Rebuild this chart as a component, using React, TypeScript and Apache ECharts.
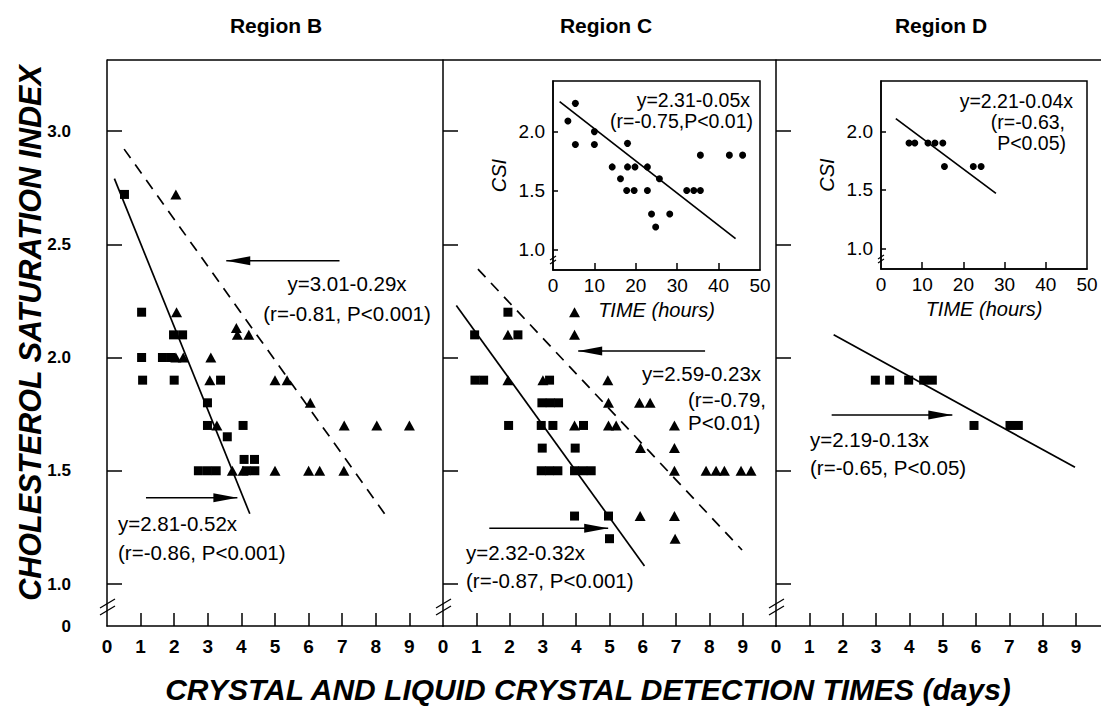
import React, { useEffect, useRef } from "react";
import * as echarts from "echarts";

const FONT = "Liberation Sans, Arial, Helvetica, sans-serif";

// ---------- data ----------
const panelTitles = ["Region B", "Region C", "Region D"];
const dayTicks = [1, 2, 3, 4, 5, 6, 7, 8, 9];
const dayLabels = [0, 1, 2, 3, 4, 5, 6, 7, 8, 9];
const csiTicks = [1, 1.5, 2, 2.5, 3];
const insetCsiTicks = [1, 1.5, 2];
const hourTicks = [10, 20, 30, 40];

const bSquares = [
  [0.52, 2.72], [1.03, 2.2], [1.98, 2.1], [2.25, 2.1],
  [1.03, 2.0], [1.65, 2.0], [1.9, 2.0],
  [1.06, 1.9], [2.0, 1.9], [3.38, 1.9],
  [2.99, 1.8], [2.99, 1.7], [4.05, 1.7], [3.58, 1.65],
  [4.08, 1.55], [4.39, 1.55],
  [2.72, 1.5], [2.99, 1.5], [3.25, 1.5], [4.15, 1.5], [4.4, 1.5],
];
const bTriangles = [
  [2.05, 2.72], [2.07, 2.2], [3.85, 2.13], [3.88, 2.1], [4.22, 2.1],
  [2.05, 2.0], [2.27, 2.0], [3.09, 2.0],
  [3.06, 1.9], [5.0, 1.9], [5.36, 1.9],
  [6.05, 1.8],
  [3.27, 1.7], [7.06, 1.7], [8.03, 1.7], [9.0, 1.7],
  [3.73, 1.5], [4.05, 1.5], [5.0, 1.5], [6.0, 1.5], [6.33, 1.5], [7.05, 1.5],
];
const bSolid = [[0.22, 2.79], [4.25, 1.31]];
const bDashed = [[0.51, 2.92], [8.36, 1.29]];
const bArrowUpper = [[6.92, 2.427], [3.55, 2.427]];
const bArrowLower = [[1.16, 1.381], [3.88, 1.381]];

const cSquares = [
  [1.95, 2.2], [0.95, 2.1], [2.25, 2.1],
  [0.96, 1.9], [1.22, 1.9], [3.2, 1.9],
  [2.97, 1.8], [3.22, 1.8], [3.47, 1.8],
  [1.97, 1.7], [2.95, 1.7], [3.3, 1.7], [4.22, 1.7],
  [2.98, 1.6], [3.97, 1.6],
  [2.95, 1.5], [3.2, 1.5], [3.45, 1.5], [3.95, 1.5], [4.2, 1.5], [4.45, 1.5],
  [3.95, 1.3], [4.97, 1.3], [5.0, 1.2],
];
const cTriangles = [
  [3.95, 2.2], [1.95, 2.1], [3.95, 2.1],
  [1.95, 1.9], [3.0, 1.9], [4.95, 1.9],
  [4.97, 1.8], [5.9, 1.8], [6.22, 1.8],
  [3.95, 1.7], [4.97, 1.7], [5.2, 1.7], [6.95, 1.7],
  [5.93, 1.6], [6.95, 1.6],
  [6.95, 1.5], [7.9, 1.5], [8.2, 1.5], [8.45, 1.5], [8.95, 1.5], [9.25, 1.5],
  [5.92, 1.3], [6.95, 1.3], [6.97, 1.2],
];
const cSolid = [[0.4, 2.23], [6.05, 1.08]];
const cDashed = [[1.05, 2.39], [8.98, 1.15]];
const cArrowUpper = [[7.87, 2.029], [4.06, 2.029]];
const cArrowLower = [[1.39, 1.246], [4.96, 1.246]];

const dSquares = [
  [2.98, 1.9], [3.41, 1.9], [3.98, 1.9], [4.43, 1.9], [4.69, 1.9],
  [5.94, 1.7], [7.02, 1.7], [7.27, 1.7],
];
const dSolid = [[1.73, 2.1], [8.97, 1.515]];
const dArrow = [[1.67, 1.746], [5.29, 1.746]];

const cInsetPoints = [
  [3.6, 2.09], [5.4, 2.24], [5.4, 1.89], [10, 2.0], [10, 1.89], [18, 1.9],
  [14.3, 1.7], [16.3, 1.6], [18, 1.7], [19.8, 1.7], [17.8, 1.5], [19.6, 1.5],
  [22.8, 1.7], [22.8, 1.5], [25.7, 1.6], [23.8, 1.3], [24.8, 1.19], [28.2, 1.3],
  [32.3, 1.5], [34, 1.5], [35.6, 1.5], [35.6, 1.8], [42.6, 1.8], [45.8, 1.8],
];
const cInsetLine = [[1.6, 2.255], [44.1, 1.09]];
const dInsetPoints = [
  [6.8, 1.9], [8.2, 1.9], [11.4, 1.9], [13.1, 1.9], [15.0, 1.9],
  [15.4, 1.7], [22.4, 1.7], [24.3, 1.7],
];
const dInsetLine = [[3.6, 2.108], [27.9, 1.47]];

const Y_MIN = 0.8146;
const Y_MAX = 3.3135;
const INSET_Y_MIN = 0.824;
const INSET_Y_MAX = 2.43;

// ---------- layout ----------
const mainGrids = [
  { left: 107, top: 60, width: 336, height: 566 },
  { left: 443, top: 60, width: 333, height: 566 },
  { left: 776, top: 60, width: 325, height: 566 },
];
const xMaxes = [10, 10, 9.75];
const insetGrids = [
  { left: 553, top: 81, width: 207, height: 189 },
  { left: 881, top: 81, width: 206, height: 188 },
];

const BLACK = "#000";

function scatter(data: number[][], gi: number, symbol: string, size: any) {
  return {
    type: "scatter",
    xAxisIndex: gi,
    yAxisIndex: gi,
    data,
    symbol,
    symbolSize: size,
    itemStyle: { color: BLACK, opacity: 1 },
    silent: true,
    z: 3,
  };
}
function seg(data: number[][], gi: number, dashed = false, width = 1.7) {
  return {
    type: "line",
    xAxisIndex: gi,
    yAxisIndex: gi,
    data,
    symbol: "none",
    showSymbol: false,
    silent: true,
    lineStyle: { color: BLACK, width, type: dashed ? [11, 8] : "solid" },
    z: 2,
  };
}
function arrow(data: number[][], gi: number) {
  const tip = data[1];
  const left = tip[0] < data[0][0];
  return [
    seg(data, gi, false, 1.4),
    {
      type: "scatter",
      xAxisIndex: gi,
      yAxisIndex: gi,
      data: [tip],
      symbol: left ? "path://M0,5L24,0L24,10Z" : "path://M24,5L0,0L0,10Z",
      symbolSize: [24, 9],
      symbolOffset: [left ? 12 : -12, 0],
      itemStyle: { color: BLACK, opacity: 1 },
      silent: true,
      z: 4,
    },
  ];
}

function txt(text: string, x: number, y: number, align = "left", size = 20.5, extra: any = {}) {
  return {
    type: "text",
    x,
    y,
    silent: true,
    style: {
      text,
      fill: BLACK,
      fontSize: size,
      fontFamily: FONT,
      align,
      verticalAlign: "middle",
      ...extra,
    },
  };
}
function ln(x1: number, y1: number, x2: number, y2: number, w = 1.5) {
  return {
    type: "line",
    silent: true,
    shape: { x1, y1, x2, y2 },
    style: { stroke: BLACK, lineWidth: w },
  };
}

export default function App() {
  const ref = useRef<HTMLDivElement>(null);
  useEffect(() => {
    document.body.style.margin = "0";
    if (!ref.current) return;
    const chart = echarts.init(ref.current, undefined, { renderer: "svg" });

    const axisLine = { show: true, onZero: false, lineStyle: { color: BLACK, width: 1.5 } };

    const xAxes: any[] = mainGrids.map((_, i) => ({
      type: "value",
      gridIndex: i,
      min: 0,
      max: xMaxes[i],
      axisLine,
      axisTick: { show: true, inside: true, length: 13, lineStyle: { color: BLACK, width: 1.5 }, customValues: dayTicks },
      axisLabel: {
        show: true,
        customValues: dayLabels,
        fontSize: 19,
        fontWeight: "bold",
        fontFamily: FONT,
        color: BLACK,
        margin: 11,
      },
      splitLine: { show: false },
    }));
    const yAxes: any[] = mainGrids.map((_, i) => ({
      type: "value",
      gridIndex: i,
      min: Y_MIN,
      max: Y_MAX,
      axisLine,
      axisTick: { show: true, inside: true, length: 15, lineStyle: { color: BLACK, width: 1.5 }, customValues: csiTicks },
      axisLabel: {
        show: i === 0,
        customValues: [Y_MIN, ...csiTicks],
        formatter: (v: number) => (v < 0.9 ? "0" : v.toFixed(1)),
        fontSize: 17,
        fontWeight: "bold",
        fontFamily: FONT,
        color: BLACK,
        margin: 36,
        showMinLabel: true,
        showMaxLabel: true,
      },
      splitLine: { show: false },
    }));
    insetGrids.forEach((_, k) => {
      const gi = 3 + k;
      xAxes.push({
        type: "value",
        gridIndex: gi,
        min: 0,
        max: 50,
        interval: 10,
        axisLine,
        axisTick: { show: true, inside: true, length: 7, lineStyle: { color: BLACK, width: 1.5 }, customValues: hourTicks },
        axisLabel: { fontSize: 19, fontFamily: FONT, color: BLACK, margin: 6 },
        splitLine: { show: false },
        name: "TIME (hours)",
        nameLocation: "middle",
        nameGap: 30,
        nameTextStyle: { fontSize: 20, fontStyle: "italic", fontFamily: FONT, color: BLACK },
      });
      yAxes.push({
        type: "value",
        gridIndex: gi,
        min: INSET_Y_MIN,
        max: INSET_Y_MAX,
        axisLine,
        axisTick: { show: true, inside: true, length: 5, lineStyle: { color: BLACK, width: 1.5 }, customValues: insetCsiTicks },
        axisLabel: {
          customValues: insetCsiTicks,
          formatter: (v: number) => v.toFixed(1),
          fontSize: 19,
          fontFamily: FONT,
          color: BLACK,
          margin: 8,
        },
        splitLine: { show: false },
        name: "CSI",
        nameLocation: "middle",
        nameGap: 44,
        nameRotate: 90,
        nameTextStyle: { fontSize: 20, fontStyle: "italic", fontFamily: FONT, color: BLACK },
      });
    });

    const grids: any[] = [
      ...mainGrids.map((g) => ({ ...g, show: false })),
      ...insetGrids.map((g) => ({ ...g, show: true, borderColor: BLACK, borderWidth: 1.5, backgroundColor: "transparent" })),
    ];

    const series: any[] = [
      scatter(bSquares, 0, "rect", 9),
      scatter(bTriangles, 0, "triangle", [11, 10]),
      seg(bSolid, 0),
      seg(bDashed, 0, true),
      ...arrow(bArrowUpper, 0),
      ...arrow(bArrowLower, 0),
      scatter(cSquares, 1, "rect", 9),
      scatter(cTriangles, 1, "triangle", [11, 10]),
      seg(cSolid, 1),
      seg(cDashed, 1, true),
      ...arrow(cArrowUpper, 1),
      ...arrow(cArrowLower, 1),
      scatter(dSquares, 2, "rect", 9),
      seg(dSolid, 2),
      ...arrow(dArrow, 2),
      scatter(cInsetPoints, 3, "circle", 7),
      seg(cInsetLine, 3),
      scatter(dInsetPoints, 4, "circle", 7),
      seg(dInsetLine, 4),
    ];

    const breaks: any[] = [];
    mainGrids.forEach((g) => {
      const x = g.left;
      breaks.push(ln(x - 7, 608, x + 8, 599, 1.3));
      breaks.push(ln(x - 7, 615, x + 8, 606, 1.3));
    });
    insetGrids.forEach((g) => {
      const x = g.left;
      const yb = g.top + g.height;
      breaks.push(ln(x - 3, yb - 10, x + 3, yb - 14, 1.2));
      breaks.push(ln(x - 3, yb - 6, x + 3, yb - 10, 1.2));
    });

    const titleCenters = [276, 606, 941];
    const graphic: any[] = [
      ln(107, 60, 1101, 60, 1.5),
      ...breaks,
      ...panelTitles.map((t, i) => txt(t, titleCenters[i], 25, "center", 21, { fontWeight: "bold" })),
      {
        type: "text",
        x: 30,
        y: 333,
        rotation: Math.PI / 2,
        silent: true,
        style: {
          text: "CHOLESTEROL SATURATION INDEX",
          fill: BLACK,
          fontSize: 30.5,
          fontWeight: "bold",
          fontStyle: "italic",
          fontFamily: FONT,
          align: "center",
          verticalAlign: "middle",
        },
      },
      txt("CRYSTAL AND LIQUID CRYSTAL DETECTION TIMES (days)", 588, 689, "center", 30, {
        fontWeight: "bold",
        fontStyle: "italic",
      }),
      // Region B annotations
      txt("y=3.01-0.29x", 347, 283, "center"),
      txt("(r=-0.81, P<0.001)", 347, 313, "center"),
      txt("y=2.81-0.52x", 118, 523),
      txt("(r=-0.86, P<0.001)", 118, 552),
      // Region C annotations
      txt("y=2.59-0.23x", 642, 373),
      txt("(r=-0.79,", 688, 399),
      txt("P<0.01)", 688, 422),
      txt("y=2.32-0.32x", 466, 552),
      txt("(r=-0.87, P<0.001)", 466, 580),
      txt("y=2.31-0.05x", 750, 100, "right", 19.5),
      txt("(r=-0.75,P<0.01)", 753, 121, "right", 19.5),
      // Region D annotations
      txt("y=2.21-0.04x", 1073, 101, "right", 19.5),
      txt("(r=-0.63,", 1065, 122, "right", 19.5),
      txt("P<0.05)", 1066, 143, "right", 19.5),
      txt("y=2.19-0.13x", 810, 439),
      txt("(r=-0.65, P<0.05)", 810, 467),
    ];

    chart.setOption({
      animation: false,
      backgroundColor: "#fff",
      grid: grids,
      xAxis: xAxes,
      yAxis: yAxes,
      series,
      graphic,
    });
    return () => chart.dispose();
  }, []);
  return <div ref={ref} style={{ width: 1101, height: 708 }} />;
}
